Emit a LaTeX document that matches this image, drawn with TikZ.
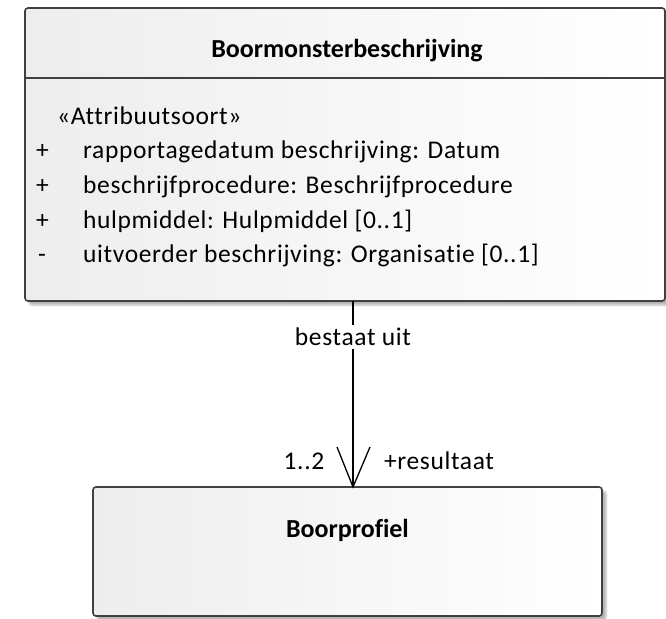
\documentclass[tikz,border=0pt]{standalone}
\usepackage{fontspec}
\setmainfont{Carlito}[Ligatures=NoCommon]
\newfontfamily\regfont[LetterSpace=2.5,Ligatures=NoCommon]{Carlito}
\usetikzlibrary{shadows.blur,calc}
\definecolor{edge}{HTML}{404040}
\tikzset{
  umlbox/.style={draw=edge, line width=1.6pt, rounded corners=3pt, inner sep=0pt, outer sep=0pt,
    left color=black!7, right color=white,
    blur shadow={shadow xshift=4pt, shadow yshift=-4pt, shadow blur steps=6, shadow opacity=30}},
  txt/.style={font=\regfont\fontsize{25.5}{28}\selectfont, inner sep=0pt, anchor=base west},
  ttl/.style={font=\bfseries\fontsize{26}{28}\selectfont, inner sep=0pt, anchor=base},
  lbl/.style={font=\regfont\fontsize{25.5}{28}\selectfont, inner sep=0pt, anchor=base},
  assoc/.style={line width=1.3pt, black},
}
\begin{document}
\begin{tikzpicture}[x=1pt,y=-1pt]
\useasboundingbox (0,0) rectangle (666,618);
% top class
\node[umlbox, minimum width=640pt, minimum height=293pt] (top) at (345,154.5) {};
\coordinate (sepy) at (0,78);
\draw[draw=edge, line width=1.6pt] (top.west |- sepy) -- (top.east |- sepy);
\node[ttl] (title) at (347,58) {Boormonsterbeschrijving};
\node[txt] (st) at (57,124) {«Attribuutsoort»};
\node[txt] (p1) at (36,158) {+};
\node[txt] (a1) at (83,158) {rapportagedatum beschrijving: Datum};
\node[txt] (p2) at (36,193) {+};
\node[txt] (a2) at (83,193) {beschrijfprocedure: Beschrijfprocedure};
\node[txt] (p3) at (36,228) {+};
\node[txt] (a3) at (83,228) {hulpmiddel: Hulpmiddel [0..1]};
\node[txt] (p4) at (38,262) {-};
\node[txt] (a4) at (83,262) {uitvoerder beschrijving: Organisatie [0..1]};
% bottom class
\node[umlbox, minimum width=509pt, minimum height=129pt] (bot) at (347.5,551.5) {};
\node[ttl] (btitle) at (347.5,537) {Boorprofiel};
% association
\coordinate (cx) at (353,0);
\draw[assoc] (cx |- top.south) -- (cx |- bot.north)
  node[lbl, pos=0.24, fill=white, inner ysep=3pt] (name) {bestaat uit};
\coordinate (tip) at (cx |- bot.north);
\draw[assoc] ($(tip)+(-16,-40)$) -- (tip) -- ($(tip)+(17,-40)$);
\node[lbl] (mult) at (304,469) {1..2};
\node[lbl] (role) at (439,469) {+resultaat};
\end{tikzpicture}
\end{document}
